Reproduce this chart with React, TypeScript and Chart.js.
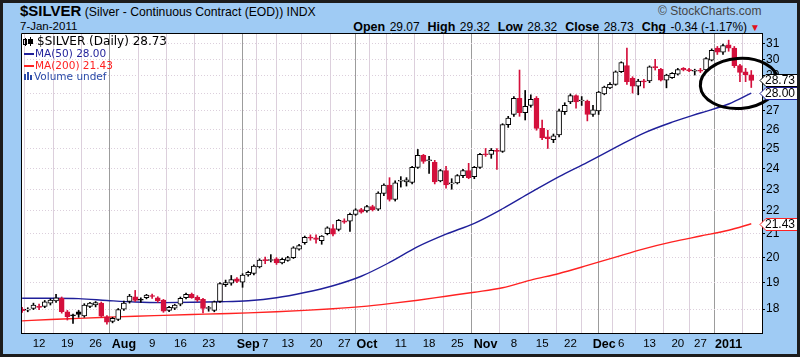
import React, { useEffect, useRef } from 'react';
import { Chart, registerables } from 'chart.js';

Chart.register(...registerables);

// ---------- data ----------
const dates = [
  'Jul 7','Jul 8','Jul 9',
  'Jul 12','Jul 13','Jul 14','Jul 15','Jul 16',
  'Jul 19','Jul 20','Jul 21','Jul 22','Jul 23',
  'Jul 26','Jul 27','Jul 28','Jul 29','Jul 30',
  'Aug 2','Aug 3','Aug 4','Aug 5','Aug 6',
  'Aug 9','Aug 10','Aug 11','Aug 12','Aug 13',
  'Aug 16','Aug 17','Aug 18','Aug 19','Aug 20',
  'Aug 23','Aug 24','Aug 25','Aug 26','Aug 27',
  'Aug 30','Aug 31','Sep 1','Sep 2','Sep 3',
  'Sep 7','Sep 8','Sep 9','Sep 10',
  'Sep 13','Sep 14','Sep 15','Sep 16','Sep 17',
  'Sep 20','Sep 21','Sep 22','Sep 23','Sep 24',
  'Sep 27','Sep 28','Sep 29','Sep 30','Oct 1',
  'Oct 4','Oct 5','Oct 6','Oct 7','Oct 8',
  'Oct 11','Oct 12','Oct 13','Oct 14','Oct 15',
  'Oct 18','Oct 19','Oct 20','Oct 21','Oct 22',
  'Oct 25','Oct 26','Oct 27','Oct 28','Oct 29',
  'Nov 1','Nov 2','Nov 3','Nov 4','Nov 5',
  'Nov 8','Nov 9','Nov 10','Nov 11','Nov 12',
  'Nov 15','Nov 16','Nov 17','Nov 18','Nov 19',
  'Nov 22','Nov 23','Nov 24','Nov 26',
  'Nov 29','Nov 30','Dec 1','Dec 2','Dec 3',
  'Dec 6','Dec 7','Dec 8','Dec 9','Dec 10',
  'Dec 13','Dec 14','Dec 15','Dec 16','Dec 17',
  'Dec 20','Dec 21','Dec 22','Dec 23',
  'Dec 27','Dec 28','Dec 29','Dec 30','Dec 31',
  'Jan 3','Jan 4','Jan 5','Jan 6','Jan 7',
];

const opens = [
  18.00,17.96,18.02,
  18.10,18.10,18.22,18.30,18.40,
  17.90,17.78,17.90,17.75,18.10,
  18.15,18.22,17.72,17.55,17.62,
  18.00,18.28,18.46,18.35,18.42,
  18.50,18.42,18.33,17.95,18.03,
  18.18,18.42,18.55,18.45,18.36,
  18.02,17.95,18.28,18.92,18.98,
  19.15,19.02,19.30,19.36,19.62,
  19.92,19.88,19.95,19.78,
  19.88,20.00,20.35,20.62,20.86,
  20.82,20.70,21.00,21.22,21.18,
  21.56,21.55,21.85,22.06,22.00,
  22.20,22.08,22.80,23.20,22.52,
  23.38,23.35,23.32,24.05,24.65,
  24.38,24.30,23.40,23.90,23.25,
  23.30,23.65,23.90,23.60,24.05,
  24.72,24.70,24.90,24.85,26.25,
  26.80,27.70,26.90,27.30,27.70,
  26.05,25.60,25.45,25.70,26.95,
  27.50,27.85,27.55,27.55,
  26.80,27.00,27.95,28.30,28.50,
  29.25,29.62,28.85,28.40,28.70,
  28.70,29.55,29.40,28.75,28.90,
  29.10,29.45,29.38,29.28,
  29.35,29.35,29.95,30.70,30.45,
  30.90,30.70,29.62,29.25,29.07,
];

const highs = [
  18.06,18.05,18.22,
  18.18,18.32,18.38,18.55,18.45,
  17.95,17.82,17.95,18.20,18.25,
  18.28,18.26,17.76,17.70,18.02,
  18.30,18.55,18.70,18.42,18.55,
  18.56,18.46,18.36,18.10,18.18,
  18.45,18.60,18.60,18.50,18.40,
  18.10,18.30,19.00,19.10,19.28,
  19.20,19.35,19.45,19.70,19.95,
  20.02,20.12,20.00,19.98,
  20.05,20.45,20.55,20.90,20.95,
  20.95,20.92,21.30,21.40,21.62,
  21.65,21.90,22.10,22.12,22.25,
  22.26,22.88,23.25,23.55,23.40,
  23.60,23.55,24.10,24.95,24.70,
  24.60,24.40,23.95,24.10,23.50,
  23.70,23.95,24.25,24.10,24.75,
  25.00,25.00,25.00,26.30,26.70,
  27.80,29.35,28.15,27.90,27.80,
  26.50,25.95,25.75,27.10,27.45,
  27.95,27.90,27.80,27.60,
  27.30,28.10,28.40,28.60,29.30,
  29.85,30.70,28.95,28.80,28.80,
  29.60,30.00,29.45,29.10,29.20,
  29.45,29.50,29.45,29.40,
  29.45,30.10,30.65,30.80,30.95,
  31.20,30.80,29.70,29.45,29.32,
];

const lows = [
  17.88,17.90,17.98,
  17.98,18.05,18.15,18.25,17.85,
  17.60,17.48,17.70,17.70,18.05,
  18.08,17.70,17.45,17.50,17.58,
  17.95,18.22,18.28,18.25,18.38,
  18.40,18.25,17.88,17.90,17.98,
  18.12,18.38,18.40,18.28,17.86,
  17.92,17.90,18.25,18.85,18.90,
  19.00,18.82,19.25,19.30,19.58,
  19.75,19.82,19.72,19.74,
  19.85,19.96,20.30,20.55,20.72,
  20.60,20.55,20.95,20.90,21.12,
  21.45,21.10,21.80,21.90,21.95,
  22.00,22.02,22.70,22.45,22.45,
  23.10,23.15,23.25,24.00,24.25,
  23.75,23.25,23.35,23.05,23.00,
  23.25,23.55,23.50,23.50,24.00,
  24.60,24.50,23.95,24.80,26.10,
  26.70,26.70,26.50,27.20,25.95,
  25.45,25.00,25.30,25.60,26.80,
  27.40,27.15,27.30,26.45,
  26.70,26.80,27.90,28.25,28.45,
  29.20,28.50,28.00,27.90,28.30,
  28.60,29.35,28.70,28.30,28.85,
  29.05,29.30,29.25,29.05,
  29.20,29.30,29.90,30.30,30.30,
  30.50,29.50,28.66,28.66,28.32,
];

const closes = [
  17.94,17.97,18.15,
  18.06,18.27,18.33,18.42,17.90,
  17.72,17.75,17.80,18.15,18.22,
  18.24,17.74,17.52,17.66,17.98,
  18.22,18.48,18.32,18.33,18.52,
  18.47,18.30,17.92,18.06,18.15,
  18.40,18.55,18.42,18.33,18.02,
  18.05,18.27,18.96,19.00,19.12,
  19.05,19.30,19.40,19.65,19.90,
  19.87,19.92,19.78,19.93,
  20.00,20.40,20.50,20.85,20.81,
  20.76,20.90,21.25,20.98,21.58,
  21.50,21.85,22.05,21.95,22.20,
  22.05,22.82,23.20,22.52,23.30,
  23.40,23.45,24.05,24.65,24.35,
  24.40,23.35,23.90,23.20,23.30,
  23.65,23.90,23.55,24.05,24.70,
  24.68,24.90,24.85,26.25,26.60,
  27.70,26.90,27.25,27.65,26.05,
  25.55,25.50,25.65,27.00,27.30,
  27.85,27.50,27.60,26.80,
  27.05,28.05,28.35,28.50,29.25,
  29.80,28.66,28.40,28.70,28.65,
  29.55,29.50,28.75,29.05,29.15,
  29.38,29.35,29.30,29.32,
  29.28,30.05,30.55,30.45,30.85,
  30.70,29.62,29.20,29.07,28.73,
];

// moving averages at these day positions
const maIdx = [0,5,10,15,20,25,30,35,40,45,50,55,60,65,70,75,80,85,90,95,100,105,110,115,120,125,129];
const ma50 = [18.40,18.40,18.39,18.32,18.26,18.24,18.25,18.27,18.31,18.42,18.62,18.88,19.25,19.80,20.45,20.98,21.45,22.10,22.85,23.60,24.30,25.05,25.80,26.38,26.88,27.38,28.00];
const ma200 = [17.57,17.62,17.66,17.70,17.74,17.77,17.80,17.83,17.86,17.90,17.95,18.01,18.09,18.20,18.33,18.48,18.63,18.80,19.10,19.36,19.68,20.02,20.36,20.65,20.90,21.15,21.43];
const ma50Last = 28.0;
const ma200Last = 21.43;

const tickDates = ['Jul 12','Jul 19','Jul 26','Aug 2','Aug 9','Aug 16','Aug 23','Aug 30','Sep 1','Sep 7','Sep 13','Sep 20','Sep 27','Oct 1','Oct 4','Oct 11','Oct 18','Oct 25','Nov 1','Nov 8','Nov 15','Nov 22','Nov 29','Dec 1','Dec 6','Dec 13','Dec 20','Dec 27','Jan 3'];
const tickText = ['12','19','26','Aug','9','16','23','','Sep','7','13','20','27','Oct','','11','18','25','Nov','8','15','22','','Dec','6','13','20','27','2011'];
const monthTickDates = ['Aug 2','Sep 1','Oct 1','Nov 1','Dec 1','Jan 3'];
const yTicks = [18,19,20,21,22,23,24,25,26,27,28,29,30,31];

const titleSymbol = '$SILVER';
const titleName = '(Silver - Continuous Contract (EOD)) INDX';
const dateText = '7-Jan-2011';
const quote = { open: '29.07', high: '29.32', low: '28.32', close: '28.73', chg: '-0.34 (-1.17%)' };

// ---------- styles ----------
const RED = '#d4103c';
const NAVY = '#1f1f9a';
const MA_RED = '#ff2222';
const FONT = '"Liberation Sans", Arial, sans-serif';
const LEG_FONT = '"DejaVu Sans", Verdana, sans-serif';

const tickIdx = tickDates.map((d) => dates.indexOf(d));
const labelMap = new Map<number, string>(tickIdx.map((k, j) => [k, tickText[j]]));
const monthIdx = new Set(monthTickDates.map((d) => dates.indexOf(d)));

const candleColor = closes.map((c, k) => ((k === 0 ? c >= opens[k] : c >= closes[k - 1]) ? '#000000' : RED));
const bodyFill = closes.map((c, k) => (c > opens[k] ? '#ffffff' : candleColor[k]));

export default function App() {
  const ref = useRef<HTMLCanvasElement | null>(null);

  useEffect(() => {
    const canvas = ref.current;
    if (!canvas) return;
    const last = closes.length - 1;

    const overlay = {
      id: 'overlay',
      beforeDraw(chart: any) {
        const { ctx, chartArea: a } = chart;
        ctx.save();
        ctx.fillStyle = '#ffffff';
        ctx.fillRect(a.left, a.top, a.right - a.left, a.bottom - a.top);
        ctx.restore();
      },
      afterDraw(chart: any) {
        const { ctx, chartArea: a, scales } = chart;
        const ys = scales.y;
        const xs = scales.x;
        ctx.save();
        // frame
        ctx.strokeStyle = '#000';
        ctx.lineWidth = 1;
        ctx.beginPath();
        ctx.moveTo(a.left + 0.5, a.bottom);
        ctx.lineTo(a.left + 0.5, a.top + 0.5);
        ctx.lineTo(a.right, a.top + 0.5);
        ctx.stroke();

        // legend
        const lx = a.left + 3;
        ctx.fillStyle = '#000';
        ctx.fillRect(lx + 1, a.top + 5, 1, 8);
        ctx.strokeStyle = '#000';
        ctx.strokeRect(lx - 0.5, a.top + 6.5, 3, 5);
        ctx.fillRect(lx + 6, a.top + 4, 1, 9);
        ctx.fillRect(lx + 4, a.top + 6, 5, 5);
        ctx.textBaseline = 'middle';
        ctx.textAlign = 'left';
        ctx.font = `12px ${LEG_FONT}`;
        ctx.fillStyle = '#000';
        ctx.fillText(`${titleSymbol} (Daily) ${closes[last].toFixed(2)}`, lx + 13, a.top + 9);

        ctx.font = `10.5px ${LEG_FONT}`;
        ctx.fillStyle = NAVY;
        ctx.fillRect(lx, a.top + 20, 10, 2);
        ctx.fillText(`MA(50) ${ma50Last.toFixed(2)}`, lx + 11, a.top + 21);
        ctx.fillStyle = MA_RED;
        ctx.fillRect(lx, a.top + 32, 10, 2);
        ctx.fillText(`MA(200) ${ma200Last.toFixed(2)}`, lx + 11, a.top + 33);
        ctx.fillStyle = '#2a4aa8';
        ctx.fillRect(lx, a.top + 41, 2, 6);
        ctx.fillRect(lx + 3, a.top + 39, 2, 8);
        ctx.fillRect(lx + 6, a.top + 42, 2, 5);
        ctx.fillText('Volume undef', lx + 10, a.top + 44);

        // hand-drawn ellipse annotation around the latest bars
        const cx = xs.getPixelForValue(last) - 12;
        const cy = ys.getPixelForValue(closes[last]) + 3;
        ctx.beginPath();
        ctx.ellipse(cx, cy, 39, 25, -0.07, 0, Math.PI * 2);
        ctx.strokeStyle = '#000';
        ctx.lineWidth = 3;
        ctx.stroke();

        // value boxes on the price axis
        const boxes: [number, string][] = [
          [closes[last], '#000000'],
          [ma50Last, NAVY],
          [ma200Last, MA_RED],
        ];
        ctx.font = `12px ${FONT}`;
        ctx.lineWidth = 1;
        for (const [v, col] of boxes) {
          const y = Math.round(ys.getPixelForValue(v)) + 0.5;
          const x0 = a.right - 2;
          ctx.beginPath();
          ctx.moveTo(x0, y);
          ctx.lineTo(x0 + 6, y - 6);
          ctx.lineTo(797.5, y - 6);
          ctx.lineTo(797.5, y + 6);
          ctx.lineTo(x0 + 6, y + 6);
          ctx.closePath();
          ctx.fillStyle = '#ffffff';
          ctx.fill();
          ctx.strokeStyle = col;
          ctx.stroke();
          ctx.fillStyle = '#000';
          ctx.fillText(v.toFixed(2), x0 + 5, y + 0.5);
        }
        ctx.restore();
      },
    };

    const chart = new Chart(canvas, {
      type: 'bar',
      data: {
        datasets: [
          {
            type: 'bar',
            label: 'body',
            data: closes.map((c, k) => ({ x: k, y: [opens[k], c] })) as any,
            backgroundColor: bodyFill,
            borderColor: candleColor,
            borderWidth: 1,
            borderSkipped: false,
            barThickness: 5,
            minBarLength: 1,
            grouped: false,
          } as any,
          {
            type: 'bar',
            label: 'wick',
            data: highs.map((h, k) => ({ x: k, y: [lows[k], h] })) as any,
            backgroundColor: candleColor,
            borderWidth: 0,
            barThickness: 1,
            grouped: false,
          } as any,
          {
            type: 'line',
            label: 'MA(50)',
            data: maIdx.map((k, j) => ({ x: k, y: ma50[j] })) as any,
            borderColor: NAVY,
            borderWidth: 1.4,
            pointRadius: 0,
            cubicInterpolationMode: 'monotone',
          } as any,
          {
            type: 'line',
            label: 'MA(200)',
            data: maIdx.map((k, j) => ({ x: k, y: ma200[j] })) as any,
            borderColor: MA_RED,
            borderWidth: 1.4,
            pointRadius: 0,
            cubicInterpolationMode: 'monotone',
          } as any,
        ],
      },
      options: {
        animation: false,
        responsive: false,
        maintainAspectRatio: false,
        layout: { padding: { left: 21, top: 33, right: 0, bottom: 0 } },
        plugins: { legend: { display: false }, tooltip: { enabled: false }, title: { display: false } },
        scales: {
          x: {
            type: 'linear',
            min: -0.2,
            max: 130.9,
            offset: false,
            afterBuildTicks: (s: any) => {
              s.ticks = tickIdx.map((v) => ({ value: v }));
            },
            afterFit: (s: any) => {
              s.height = 24;
            },
            ticks: {
              autoSkip: false,
              maxRotation: 0,
              minRotation: 0,
              padding: 4,
              color: '#000',
              callback: (v: any) => labelMap.get(Number(v)) ?? '',
              font: (c: any) => {
                const m = c.tick && monthIdx.has(c.tick.value);
                return { family: FONT, size: m ? 12.5 : 11.5, weight: m ? 'bold' : 'normal' };
              },
            },
            grid: {
              color: (c: any) => (c.tick && monthIdx.has(c.tick.value) ? '#9c9c9c' : '#dccfdc'),
              lineWidth: 1,
              drawTicks: false,
            },
            border: { color: '#000', width: 1 },
          } as any,
          y: {
            type: 'logarithmic',
            position: 'right',
            min: 17.14,
            max: 31.66,
            afterBuildTicks: (s: any) => {
              s.ticks = yTicks.map((v) => ({ value: v }));
            },
            afterFit: (s: any) => {
              s.width = 38;
            },
            ticks: {
              autoSkip: false,
              padding: 1,
              color: '#000',
              font: { family: FONT, size: 12 },
              callback: (v: any) => String(v),
            },
            grid: { color: '#dccfdc', tickColor: '#000', tickLength: 3, lineWidth: 1 },
            border: { color: '#000', width: 1, dash: [1, 2] },
          } as any,
        },
      },
      plugins: [overlay],
    });
    return () => chart.destroy();
  }, []);

  const label = { fontWeight: 'bold' as const, fontSize: 12.5 };
  const val = { fontSize: 12 };

  return (
    <div style={{ position: 'fixed', left: 0, top: 0, width: 800, height: 357, background: '#9fcbf4', overflow: 'hidden', fontFamily: FONT }}>
      <div style={{ position: 'absolute', left: 20, top: 2, whiteSpace: 'nowrap', lineHeight: '18px' }}>
        <span style={{ fontWeight: 'bold', fontSize: 15 }}>{titleSymbol}</span>
        <span style={{ fontSize: 12.2 }}> {titleName}</span>
      </div>
      <div style={{ position: 'absolute', left: 20, top: 19, fontSize: 11.5, lineHeight: '14px' }}>{dateText}</div>
      <div style={{ position: 'absolute', left: 658, top: 4, fontSize: 12, color: '#444', lineHeight: '14px', whiteSpace: 'nowrap' }}>© StockCharts.com</div>
      <div style={{ position: 'absolute', right: 40, top: 18, whiteSpace: 'nowrap', lineHeight: '16px' }}>
        <span style={label}>Open</span> <span style={val}>{quote.open}</span>{'  '}
        <span style={label}>&nbsp;High</span> <span style={val}>{quote.high}</span>{'  '}
        <span style={label}>&nbsp;Low</span> <span style={val}>{quote.low}</span>{'  '}
        <span style={label}>&nbsp;Close</span> <span style={val}>{quote.close}</span>{'  '}
        <span style={label}>&nbsp;Chg</span> <span style={val}>{quote.chg}</span>
        <span style={{ color: '#e01020', fontSize: 10, marginLeft: 3 }}>▼</span>
      </div>
      <canvas ref={ref} width={800} height={357} style={{ position: 'absolute', left: 0, top: 0, width: 800, height: 357 }} />
      <div style={{ position: 'absolute', left: 0, top: 0, width: 800, height: 357, boxSizing: 'border-box', border: '3px solid #1c1c1c', pointerEvents: 'none' }} />
    </div>
  );
}
